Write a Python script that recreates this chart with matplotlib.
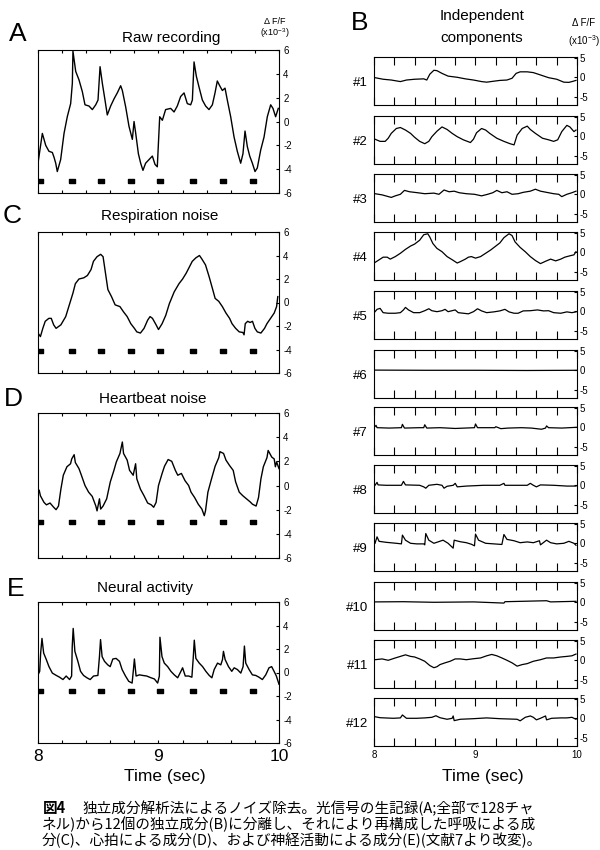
import numpy as np
import matplotlib
matplotlib.use("Agg")
import matplotlib.pyplot as plt
from matplotlib.ticker import FuncFormatter

plt.rcParams.update({
    "font.family": ["Liberation Sans", "DejaVu Sans"],
    "axes.unicode_minus": False,
    "axes.linewidth": 0.8,
    "mathtext.fontset": "custom",
    "mathtext.rm": "Liberation Sans",
    "mathtext.it": "Liberation Sans",
})

W, H = 600, 850  # figure size in pixels at dpi 100

# heartbeat marks (sec) and the level they sit at in each left panel
beat_times = [8.02, 8.285, 8.52, 8.775, 9.01, 9.285, 9.535, 9.785]
beat_levels = [-5.0, -4.1, -3.0, -1.55]

# A: raw recording
raw_t = [8.000, 8.036, 8.064, 8.091, 8.119, 8.133, 8.147, 8.160, 8.188, 8.216,
         8.243, 8.271, 8.285, 8.290, 8.313, 8.340, 8.368, 8.390, 8.423, 8.451,
         8.479, 8.498, 8.515, 8.534, 8.556, 8.575, 8.603, 8.631, 8.658, 8.686,
         8.700, 8.728, 8.755, 8.783, 8.797, 8.811, 8.833, 8.852, 8.871, 8.893,
         8.921, 8.949, 8.971, 8.990, 9.010, 9.032, 9.059, 9.101, 9.129, 9.156,
         9.184, 9.212, 9.239, 9.267, 9.281, 9.295, 9.314, 9.336, 9.364, 9.391,
         9.419, 9.447, 9.469, 9.488, 9.508, 9.530, 9.552, 9.571, 9.599, 9.627,
         9.654, 9.682, 9.701, 9.718, 9.737, 9.757, 9.779, 9.801, 9.820, 9.848,
         9.876, 9.903, 9.931, 9.950, 9.972, 9.994]
raw_v = [-3.5, -1.0, -2.0, -2.5, -2.6, -3.0, -3.5, -4.2, -3.2, -1.0,
         0.4, 1.5, 3.2, 5.9, 4.2, 3.5, 2.5, 1.4, 1.3, 1.0,
         1.4, 1.8, 4.6, 3.2, 1.8, 0.55, 1.3, 1.9, 2.4, 3.0,
         2.6, 1.2, -0.4, -1.5, 0.0, -1.0, -2.7, -3.5, -4.1, -3.5,
         -3.2, -2.9, -3.6, -3.8, 0.4, 0.1, 1.0, 1.1, 0.8, 1.3,
         2.1, 2.4, 1.5, 1.4, 1.8, 5.0, 3.8, 2.9, 1.8, 1.3,
         1.0, 1.4, 2.4, 3.4, 3.0, 2.6, 2.8, 1.8, 0.4, -1.3,
         -2.5, -3.5, -2.7, -0.8, -2.1, -2.9, -3.5, -4.2, -3.9, -2.4,
         -1.3, 0.4, 1.4, 1.1, 0.4, 1.1]

# C: respiration noise
resp_t = [8.00, 8.02, 8.04, 8.06, 8.09, 8.11, 8.13, 8.15, 8.19, 8.23,
          8.26, 8.29, 8.31, 8.34, 8.38, 8.41, 8.44, 8.46, 8.49, 8.52,
          8.54, 8.56, 8.58, 8.61, 8.64, 8.68, 8.71, 8.74, 8.77, 8.80,
          8.82, 8.85, 8.88, 8.91, 8.93, 8.95, 8.98, 9.00, 9.03, 9.06,
          9.09, 9.13, 9.17, 9.20, 9.23, 9.25, 9.28, 9.31, 9.34, 9.36,
          9.39, 9.42, 9.45, 9.47, 9.50, 9.53, 9.56, 9.59, 9.61, 9.64,
          9.67, 9.70, 9.71, 9.72, 9.74, 9.76, 9.78, 9.80, 9.82, 9.85,
          9.88, 9.90, 9.93, 9.96, 9.98, 9.99]
resp_v = [-2.6, -2.9, -2.2, -1.6, -1.35, -1.35, -1.9, -2.2, -1.9, -1.2,
          -0.2, 0.8, 1.6, 2.0, 2.1, 2.3, 2.8, 3.5, 3.9, 4.1,
          3.9, 2.5, 1.1, 0.5, -0.2, -0.35, -0.8, -1.2, -1.8, -2.2,
          -2.5, -2.6, -2.2, -1.5, -1.2, -1.35, -1.9, -2.3, -1.8, -1.1,
          -0.1, 0.9, 1.6, 2.0, 2.5, 2.9, 3.5, 3.8, 4.0, 3.7,
          3.2, 2.2, 1.1, 0.35, 0.1, -0.35, -0.9, -1.35, -1.8, -2.2,
          -2.5, -2.55, -2.75, -1.8, -1.6, -1.7, -1.6, -2.2, -2.5, -2.6,
          -2.2, -1.8, -1.35, -0.9, -0.35, 0.5]

# D: heartbeat noise
heart_t = [8.01, 8.02, 8.05, 8.07, 8.10, 8.13, 8.15, 8.17, 8.19, 8.21,
           8.24, 8.27, 8.28, 8.30, 8.31, 8.34, 8.36, 8.39, 8.42, 8.45,
           8.48, 8.49, 8.51, 8.52, 8.54, 8.57, 8.60, 8.63, 8.65, 8.68,
           8.70, 8.71, 8.74, 8.76, 8.79, 8.81, 8.82, 8.85, 8.88, 8.91,
           8.94, 8.96, 8.98, 9.00, 9.03, 9.05, 9.08, 9.11, 9.14, 9.16,
           9.19, 9.22, 9.25, 9.27, 9.30, 9.33, 9.36, 9.38, 9.39, 9.41,
           9.44, 9.47, 9.50, 9.51, 9.54, 9.56, 9.59, 9.62, 9.64, 9.67,
           9.70, 9.73, 9.76, 9.78, 9.81, 9.83, 9.85, 9.87, 9.90, 9.91,
           9.94, 9.96, 9.97, 9.98, 10.00]
heart_v = [-0.4, -0.85, -1.4, -1.6, -1.45, -1.8, -2.0, -1.7, -0.3, 0.85,
           1.55, 1.8, 2.2, 2.55, 1.9, 1.4, 0.85, 0.0, -0.55, -0.9,
           -1.7, -2.1, -1.1, -1.95, -1.7, -1.1, 0.3, 1.25, 1.95, 2.65,
           3.6, 2.65, 2.1, 1.25, 0.85, 1.8, 0.55, -0.3, -0.85, -1.45,
           -1.6, -1.8, -1.4, 0.0, 1.0, 1.6, 2.15, 2.0, 1.25, 0.85,
           1.0, 0.4, 0.0, -0.55, -1.0, -1.55, -1.95, -2.5, -2.1, -0.55,
           0.55, 1.6, 2.3, 2.8, 2.65, 2.1, 1.65, 1.25, 0.3, -0.55,
           -0.85, -1.1, -1.35, -1.55, -1.7, -1.0, 0.55, 1.55, 2.3, 2.9,
           2.35, 2.2, 1.55, 1.95, 1.4]

# E: neural activity
neural_t = [8.000, 8.014, 8.022, 8.033, 8.047, 8.069, 8.091, 8.119, 8.152, 8.179,
            8.207, 8.234, 8.262, 8.279, 8.284, 8.292, 8.306, 8.331, 8.353, 8.378,
            8.406, 8.433, 8.461, 8.497, 8.510, 8.519, 8.532, 8.552, 8.579, 8.599,
            8.621, 8.648, 8.676, 8.698, 8.726, 8.753, 8.781, 8.792, 8.800, 8.814,
            8.841, 8.869, 8.902, 8.938, 8.966, 8.993, 9.007, 9.012, 9.029, 9.048,
            9.076, 9.103, 9.131, 9.159, 9.186, 9.200, 9.222, 9.250, 9.277, 9.288,
            9.297, 9.310, 9.338, 9.366, 9.393, 9.421, 9.443, 9.462, 9.490, 9.517,
            9.531, 9.539, 9.553, 9.581, 9.608, 9.628, 9.655, 9.683, 9.702, 9.713,
            9.724, 9.752, 9.779, 9.807, 9.834, 9.862, 9.890, 9.917, 9.939, 9.959,
            9.978, 10.000]
neural_v = [-0.2, 0.1, 1.65, 2.9, 1.65, 1.1, 0.5, -0.05, -0.25, -0.4,
            -0.6, -0.3, -0.6, -0.3, 2.2, 3.75, 1.8, 0.95, 0.1, -0.25,
            -0.45, -0.6, -0.3, -0.25, 1.35, 2.8, 1.35, 0.95, 0.65, 0.5,
            1.15, 1.2, 0.95, 0.25, -0.3, -0.75, -0.9, 0.25, 1.15, -0.3,
            -0.2, -0.25, -0.3, -0.45, -0.55, -0.9, -0.3, 3.0, 1.35, 0.8,
            0.5, 0.1, -0.2, -0.45, 0.1, 0.4, -0.3, -0.3, -0.4, 1.2,
            2.75, 1.2, 0.8, 0.5, 0.1, -0.25, -0.45, 0.25, 0.8, 0.65,
            1.1, 1.8, 1.1, 0.5, 0.1, 0.4, 0.25, -0.05, 0.5, 2.25,
            0.8, 0.25, -0.2, -0.25, -0.4, -0.6, -0.2, 0.4, 0.5, 0.1,
            -0.3, -1.0]

# B: independent components #1..#12
ic1_t = [8.01, 8.09, 8.17, 8.26, 8.32, 8.40, 8.49, 8.52, 8.55, 8.59, 8.62, 8.67,
         8.73, 8.82, 8.90, 8.98, 9.06, 9.11, 9.18, 9.24, 9.31, 9.36, 9.40, 9.44,
         9.51, 9.57, 9.64, 9.72, 9.80, 9.87, 9.92, 9.95, 9.99]
ic1_v = [-0.1, -0.5, -0.7, -1.1, -0.7, -0.5, -0.4, -0.7, 0.8, 1.8, 1.7, 1.0,
         0.3, 0.0, -0.4, -0.7, -1.1, -1.25, -1.0, -0.8, -0.7, -0.25, 1.0, 1.4,
         1.4, 1.2, 0.6, -0.1, -0.5, -1.25, -1.3, -1.1, -0.8]

ic2_t = [8.01, 8.06, 8.11, 8.14, 8.17, 8.22, 8.26, 8.31, 8.36, 8.40, 8.45, 8.50,
         8.54, 8.57, 8.62, 8.67, 8.72, 8.77, 8.82, 8.88, 8.95, 8.98, 9.01, 9.06,
         9.10, 9.14, 9.21, 9.28, 9.34, 9.38, 9.41, 9.46, 9.51, 9.54, 9.59, 9.66,
         9.72, 9.77, 9.81, 9.85, 9.90, 9.93, 9.97, 9.99]
ic2_v = [-0.75, -1.3, -1.3, -0.5, 0.75, 2.0, 2.25, 1.6, 0.75, -0.25, -1.3, -1.9,
         -1.3, -0.1, 1.3, 2.4, 1.75, 0.75, -0.1, -0.9, -1.6, -0.75, 0.9, 2.0,
         1.6, 0.75, -0.5, -1.3, -1.9, -2.2, 0.3, 2.0, 2.6, 1.75, 0.75, -0.5,
         -0.9, -1.3, -0.9, 1.2, 2.8, 2.4, 1.2, 1.6]

ic3_t = [8.01, 8.08, 8.17, 8.21, 8.26, 8.30, 8.35, 8.43, 8.50, 8.59, 8.64, 8.69,
         8.74, 8.79, 8.84, 8.91, 8.99, 9.06, 9.12, 9.17, 9.21, 9.26, 9.31, 9.36,
         9.42, 9.47, 9.54, 9.59, 9.64, 9.70, 9.77, 9.82, 9.85, 9.90, 9.95, 9.99]
ic3_v = [0.15, -0.15, -0.8, -0.4, 0.0, 1.0, 0.65, 0.4, 0.15, 0.3, 0.0, 1.1,
         0.65, 0.8, 0.4, 0.15, 0.0, -0.4, 0.0, 0.4, 1.0, 0.4, 0.65, 0.0,
         0.15, 0.5, 0.8, 1.3, 0.8, 0.5, 0.15, 0.0, -0.6, 0.0, 0.4, 0.8]

ic4_t = [8.01, 8.04, 8.09, 8.13, 8.16, 8.21, 8.26, 8.31, 8.36, 8.40, 8.45, 8.49,
         8.53, 8.55, 8.58, 8.62, 8.67, 8.72, 8.77, 8.82, 8.85, 8.90, 8.93, 8.96,
         9.00, 9.05, 9.10, 9.15, 9.19, 9.24, 9.28, 9.33, 9.36, 9.39, 9.44, 9.49,
         9.54, 9.59, 9.64, 9.69, 9.74, 9.79, 9.84, 9.88, 9.93, 9.97, 9.99]
ic4_v = [-2.6, -2.1, -1.25, -1.25, -1.75, -1.1, -0.25, 0.75, 1.6, 2.1, 3.1, 4.5,
         4.75, 3.9, 2.25, 1.0, 0.15, -1.1, -1.9, -2.75, -2.4, -1.75, -1.25, -1.1,
         -1.5, -1.1, -0.25, 0.6, 1.4, 2.4, 3.75, 4.75, 4.3, 2.65, 1.25, 0.15,
         -1.1, -2.1, -2.9, -2.3, -1.75, -2.2, -1.75, -1.25, -0.9, -0.65, 0.15]

ic5_t = [8.01, 8.03, 8.06, 8.09, 8.14, 8.21, 8.26, 8.29, 8.31, 8.34, 8.39, 8.45,
         8.50, 8.54, 8.57, 8.62, 8.67, 8.70, 8.73, 8.80, 8.83, 8.88, 8.93, 8.98,
         9.02, 9.06, 9.11, 9.18, 9.24, 9.29, 9.33, 9.38, 9.42, 9.47, 9.54, 9.61,
         9.67, 9.72, 9.77, 9.84, 9.90, 9.95, 9.99]
ic5_v = [-0.1, 0.5, 0.75, -0.35, -0.5, -0.5, -0.35, 0.35, 1.0, 0.35, -0.35, -0.35,
         0.15, 0.65, 0.15, -0.1, 0.15, 0.5, -0.1, 0.35, -0.35, -0.5, -0.65, -0.1,
         0.65, 0.1, -0.35, -0.15, 0.1, 0.5, -0.15, -0.5, -0.5, 0.1, 0.15, 0.35,
         0.1, 0.15, -0.35, -0.5, -0.15, -0.35, -0.15]

ic6_t = [8.0, 8.5, 9.0, 9.5, 10.0]
ic6_v = [0.05, 0.0, 0.0, -0.05, 0.0]

ic7_t = [8.00, 8.02, 8.03, 8.15, 8.27, 8.28, 8.30, 8.45, 8.49, 8.50, 8.52, 8.65,
         8.80, 8.99, 9.00, 9.02, 9.19, 9.20, 9.25, 9.32, 9.45, 9.55, 9.65, 9.69,
         9.70, 9.72, 9.85, 10.00]
ic7_v = [-0.1, 0.5, -0.1, -0.2, -0.1, 0.75, -0.2, -0.1, -0.1, 0.65, -0.2, -0.1,
         -0.3, -0.1, 0.85, -0.1, -0.1, 0.15, -0.35, -0.2, -0.1, -0.2, -0.5, -0.2,
         0.35, -0.1, -0.2, 0.0]

ic8_t = [8.01, 8.03, 8.04, 8.12, 8.27, 8.29, 8.31, 8.45, 8.49, 8.51, 8.54, 8.62,
         8.67, 8.69, 8.72, 8.78, 8.80, 8.82, 8.91, 9.08, 9.24, 9.28, 9.29, 9.51,
         9.54, 9.57, 9.60, 9.64, 9.77, 9.90, 9.99]
ic8_v = [0.0, 0.75, 0.1, 0.0, 0.0, 1.0, 0.1, 0.0, -0.4, -0.75, 0.0, 0.25,
         0.0, -0.75, -0.25, 0.0, 0.5, -0.4, -0.2, 0.0, 0.0, 0.5, 0.0, 0.0,
         0.5, 0.0, -0.4, 0.1, 0.0, -0.2, -0.2]

ic9_t = [8.01, 8.03, 8.05, 8.12, 8.22, 8.27, 8.28, 8.31, 8.36, 8.42, 8.49, 8.50,
         8.51, 8.54, 8.59, 8.63, 8.68, 8.73, 8.78, 8.79, 8.85, 8.91, 8.96, 8.99,
         9.00, 9.03, 9.10, 9.18, 9.26, 9.28, 9.31, 9.38, 9.44, 9.51, 9.57, 9.63,
         9.64, 9.70, 9.74, 9.80, 9.87, 9.92, 9.97, 9.99]
ic9_v = [0.0, 1.65, 0.5, 0.25, 0.0, -0.15, 2.1, 0.8, 0.0, -0.15, -0.15, -0.4,
         2.5, 0.8, 0.0, 0.35, 0.8, 0.0, -1.25, 0.8, 0.4, 0.15, -0.25, -0.65,
         2.35, 0.8, 0.0, -0.15, -0.3, 2.25, 1.0, 0.65, 0.15, 0.35, 0.15, 0.65,
         -0.4, 0.8, 0.15, -0.15, 0.0, 0.5, 0.0, -0.5]

ic10_t = [8.01, 8.29, 8.59, 8.98, 9.28, 9.29, 9.70, 9.74, 9.99]
ic10_v = [0.1, 0.15, 0.0, 0.1, -0.2, 0.15, 0.4, 0.1, 0.25]

ic11_t = [8.01, 8.08, 8.14, 8.21, 8.26, 8.31, 8.36, 8.40, 8.45, 8.50, 8.55, 8.59,
          8.62, 8.65, 8.70, 8.75, 8.80, 8.85, 8.91, 8.98, 9.05, 9.11, 9.16, 9.21,
          9.26, 9.31, 9.36, 9.41, 9.46, 9.51, 9.57, 9.64, 9.70, 9.77, 9.84, 9.90,
          9.95, 9.99]
ic11_v = [0.15, 0.35, 0.0, 0.6, 1.0, 1.4, 1.0, 0.85, 0.35, -0.25, -1.35, -1.9,
          -1.65, -1.1, -0.65, -0.25, 0.35, 0.35, 0.15, 0.4, 0.6, 1.15, 1.5, 1.15,
          0.6, 0.0, -0.65, -1.5, -1.1, -0.85, -0.25, 0.15, 0.6, 0.6, 0.85, 1.0,
          1.15, 1.6]

ic12_t = [8.01, 8.06, 8.19, 8.26, 8.28, 8.32, 8.42, 8.50, 8.57, 8.61, 8.65, 8.72,
          8.77, 8.78, 8.79, 8.85, 8.98, 9.11, 9.24, 9.41, 9.44, 9.49, 9.54, 9.57,
          9.60, 9.64, 9.69, 9.70, 9.75, 9.84, 9.90, 9.95, 9.99]
ic12_v = [0.4, 0.15, 0.0, 0.1, 0.85, 0.0, 0.0, 0.1, 0.25, 0.65, 0.15, -0.25,
          0.0, 0.6, -0.6, -0.25, -0.1, 0.1, -0.1, -0.25, -0.65, 0.25, 0.6, 0.25,
          -0.4, 0.0, 0.6, -0.4, 0.0, 0.1, 0.1, 0.25, -0.25]

left_titles = ["Raw recording", "Respiration noise", "Heartbeat noise", "Neural activity"]
left_letters = ["A", "C", "D", "E"]
left_ticks = [-6, -4, -2, 0, 2, 4, 6]
right_ticks = [-5, 0, 5]
time_ticks = np.arange(8.0, 10.001, 0.2)

caption_head = "図4"
caption_lines = [
    "独立成分解析法によるノイズ除去。光信号の生記録(A;全部で128チャ",
    "ネル)から12個の独立成分(B)に分離し、それにより再構成した呼吸による成",
    "分(C)、心拍による成分(D)、および神経活動による成分(E)(文献7より改変)。",
]
jp_font = ["Noto Sans CJK JP", "DejaVu Sans"]


def fx(px):
    return px / W


def fy(py):
    return 1 - py / H


def box(left, top, width, height):
    return [fx(left), fy(top + height), width / W, height / H]


rect = np.array([(-1, -0.55), (1, -0.55), (1, 0.55), (-1, 0.55), (-1, -0.55)])

fig = plt.figure(figsize=(W / 100, H / 100), dpi=100)

# left column
left_series = [(raw_t, raw_v), (resp_t, resp_v), (heart_t, heart_v), (neural_t, neural_v)]
left_tops = [50, 232, 413, 602]
left_heights = [143, 141, 145, 141]
title_pos = [(171, 38), (160, 216), (153, 399), (145, 588)]
letter_pos = [(18, 34), (12, 216), (13, 399), (16, 589)]

for i, (t, v) in enumerate(left_series):
    ax = fig.add_axes(box(38, left_tops[i], 241, left_heights[i]))
    ax.plot(t, v, color="black", lw=1.0)
    ax.plot(beat_times, [beat_levels[i]] * len(beat_times), ls="none",
            marker=rect, markersize=5, color="black")
    ax.set_xlim(8, 10)
    ax.set_ylim(-6, 6)
    ax.yaxis.tick_right()
    ax.set_yticks(left_ticks)
    ax.set_xticks(time_ticks)
    ax.tick_params(axis="y", direction="in", length=2.5, labelsize=7, pad=3,
                   left=False, right=True)
    ax.tick_params(axis="x", direction="in", length=2.5, top=True, bottom=True,
                   labelsize=12.5, pad=4)
    if i == 3:
        ax.xaxis.set_major_formatter(FuncFormatter(
            lambda x, p: f"{x:.0f}" if abs(x - round(x)) < 1e-6 else ""))
    else:
        ax.tick_params(axis="x", labelbottom=False)
    fig.text(fx(title_pos[i][0]), fy(title_pos[i][1]), left_titles[i],
             ha="center", va="center", fontsize=11)
    fig.text(fx(letter_pos[i][0]), fy(letter_pos[i][1]), left_letters[i],
             ha="center", va="center", fontsize=19)

fig.text(fx(165), fy(777), "Time (sec)", ha="center", va="center", fontsize=12.5)
fig.text(fx(275), fy(22), "Δ F/F", ha="center", va="center", fontsize=6.5)
fig.text(fx(275), fy(33), "(x10$^{-3}$)", ha="center", va="center", fontsize=6.5)

# right column
right_series = [(ic1_t, ic1_v), (ic2_t, ic2_v), (ic3_t, ic3_v), (ic4_t, ic4_v),
                (ic5_t, ic5_v), (ic6_t, ic6_v), (ic7_t, ic7_v), (ic8_t, ic8_v),
                (ic9_t, ic9_v), (ic10_t, ic10_v), (ic11_t, ic11_v), (ic12_t, ic12_v)]
right_tops = [57, 116, 174, 232, 291, 350, 407, 465, 523, 582, 640, 698]
rh = 48

for i, (t, v) in enumerate(right_series):
    ax = fig.add_axes(box(374, right_tops[i], 203, rh))
    ax.plot(t, v, color="black", lw=0.9)
    ax.set_xlim(8, 10)
    ax.set_ylim(-7.1, 5.2)
    ax.yaxis.tick_right()
    ax.set_yticks(right_ticks)
    ax.set_xticks(time_ticks)
    ax.tick_params(axis="y", direction="in", length=2, labelsize=7, pad=2,
                   left=False, right=True)
    ax.tick_params(axis="x", direction="in", length=6, top=True, bottom=True,
                   labelsize=7, pad=3, width=0.8)
    if i == len(right_series) - 1:
        ax.xaxis.set_major_formatter(FuncFormatter(
            lambda x, p: f"{x:.0f}" if abs(x - round(x)) < 1e-6 else ""))
    else:
        ax.tick_params(axis="x", labelbottom=False)
    fig.text(fx(368), fy(right_tops[i] + rh / 2 + 2), f"#{i + 1}",
             ha="right", va="center", fontsize=9.5)

fig.text(fx(360), fy(23), "B", ha="center", va="center", fontsize=19)
fig.text(fx(482), fy(16), "Independent", ha="center", va="center", fontsize=11)
fig.text(fx(482), fy(38), "components", ha="center", va="center", fontsize=11)
fig.text(fx(584), fy(23), "Δ F/F", ha="center", va="center", fontsize=7)
fig.text(fx(584), fy(41), "(x10$^{-3}$)", ha="center", va="center", fontsize=7)
fig.text(fx(483), fy(776), "Time (sec)", ha="center", va="center", fontsize=12.5)

# caption
cap_size = 10.5
cap_rows = [808, 824, 840]
fig.text(fx(43), fy(cap_rows[0]), caption_head, ha="left", va="center",
         fontsize=cap_size, family=jp_font, weight="bold")
fig.text(fx(82), fy(cap_rows[0]), caption_lines[0], ha="left", va="center",
         fontsize=cap_size, family=jp_font)
fig.text(fx(42), fy(cap_rows[1]), caption_lines[1], ha="left", va="center",
         fontsize=cap_size, family=jp_font)
fig.text(fx(42), fy(cap_rows[2]), caption_lines[2], ha="left", va="center",
         fontsize=cap_size, family=jp_font)

fig.savefig("out.png", dpi=100)
